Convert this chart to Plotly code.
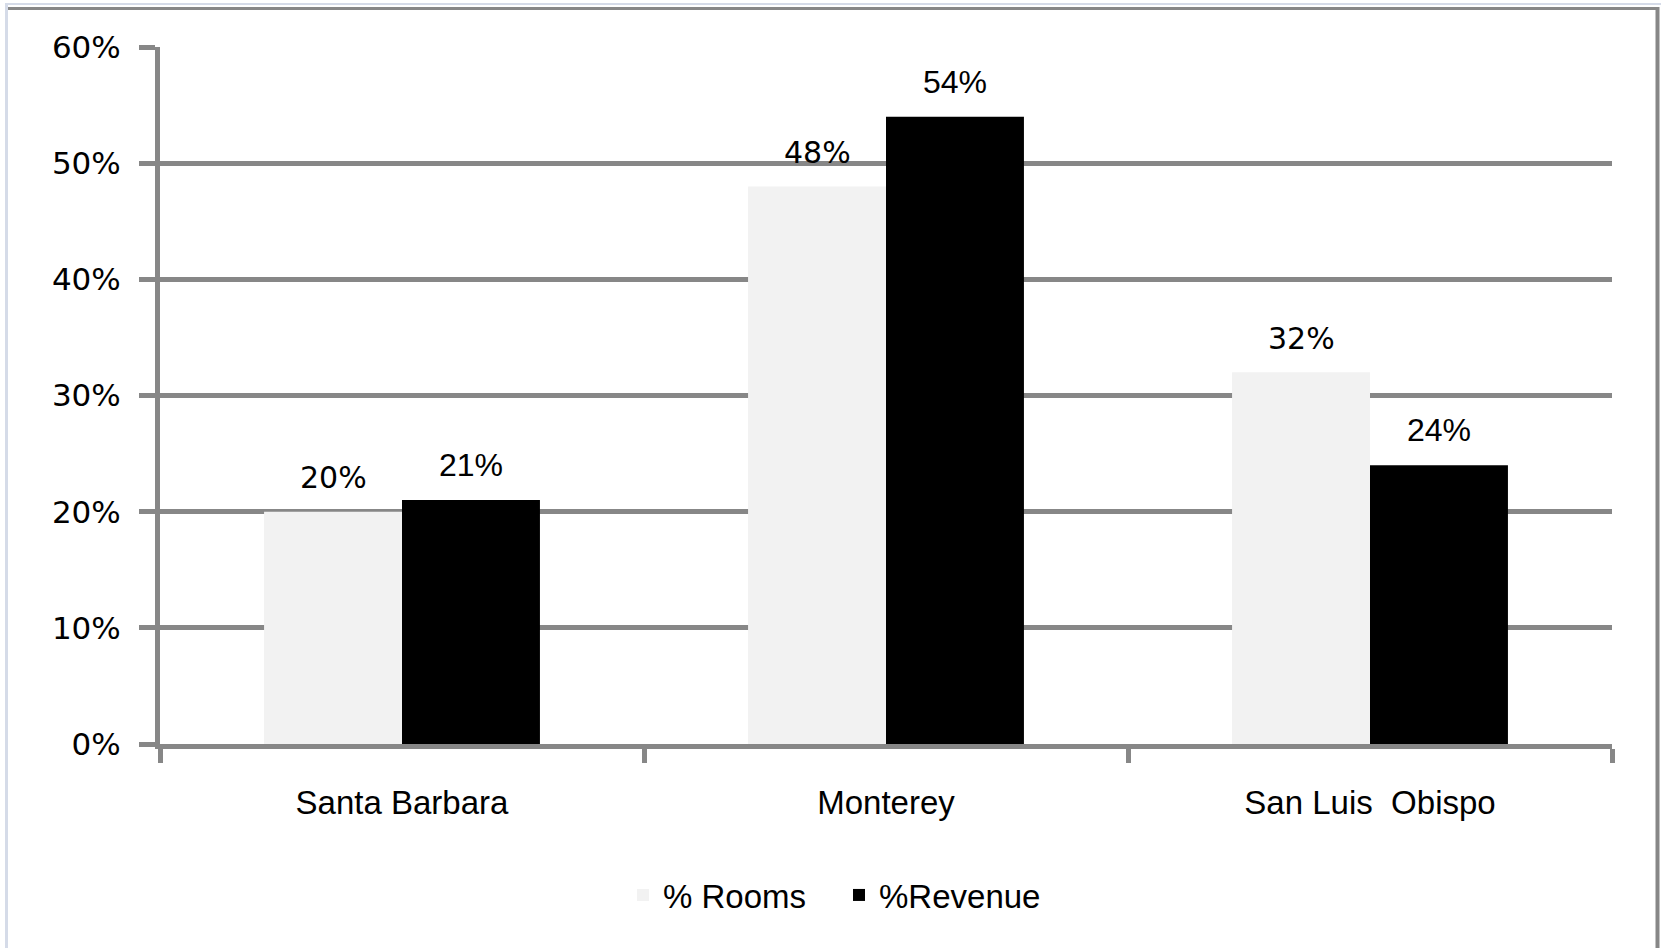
import plotly.graph_objects as go

# Share of rooms vs. share of revenue by county
categories = ["Santa Barbara", "Monterey", "San Luis  Obispo"]
rooms_pct = [20, 48, 32]
revenue_pct = [21, 54, 24]
series_names = ["% Rooms", "%Revenue"]
y_ticks = [0, 10, 20, 30, 40, 50, 60]
y_tick_text = [f"{v}%" for v in y_ticks]

W, H = 1661, 948
L, R, T, B = 160, 49, 47, 204
PW, PH = W - L - R, H - T - B

GRID = "#878787"
ROOMS_COLOR = "#f2f2f2"
REV_COLOR = "#000000"


def px_x(px):
    return (px - L) / PW


def px_y(py):
    return (H - B - py) / PH


fig = go.Figure()
fig.add_trace(go.Bar(x=categories, y=rooms_pct, name=series_names[0],
                     marker=dict(color=ROOMS_COLOR, line=dict(width=0))))
fig.add_trace(go.Bar(x=categories, y=revenue_pct, name=series_names[1],
                     marker=dict(color=REV_COLOR, line=dict(width=0))))

# value labels above each bar
half = PW / len(categories) * (1 - 0.43) / 4
annotations = []
for cat, v in zip(categories, rooms_pct):
    annotations.append(dict(x=cat, y=v, xref="x", yref="y", text=f"{v}%",
                            showarrow=False, xshift=-half, yshift=34,
                            yanchor="middle",
                            font=dict(family="DejaVu Sans", size=30, color="#000")))
for cat, v in zip(categories, revenue_pct):
    annotations.append(dict(x=cat, y=v, xref="x", yref="y", text=f"{v}%",
                            showarrow=False, xshift=half, yshift=35,
                            yanchor="middle",
                            font=dict(family="Liberation Sans", size=32, color="#000")))

# outer chart frame
shapes = [
    dict(type="line", xref="paper", yref="paper", x0=px_x(6.5), x1=px_x(6.5),
         y0=px_y(4), y1=px_y(H + 5), line=dict(color="#d5dbe8", width=3)),
    dict(type="line", xref="paper", yref="paper", x0=px_x(5), x1=px_x(W + 5),
         y0=px_y(4), y1=px_y(4), line=dict(color="#d5dbe8", width=2)),
    dict(type="line", xref="paper", yref="paper", x0=px_x(8), x1=px_x(1659),
         y0=px_y(8.5), y1=px_y(8.5), line=dict(color=GRID, width=3)),
    dict(type="line", xref="paper", yref="paper", x0=px_x(1657.5), x1=px_x(1657.5),
         y0=px_y(7), y1=px_y(H + 5), line=dict(color=GRID, width=4)),
]

fig.update_layout(
    width=W, height=H,
    margin=dict(l=L, r=R, t=T, b=B, pad=0),
    paper_bgcolor="white", plot_bgcolor="white",
    barmode="group", bargap=0.43, bargroupgap=0,
    showlegend=True,
    legend=dict(orientation="h", x=px_x(623), xanchor="left",
                y=px_y(895), yanchor="middle",
                entrywidth=171, entrywidthmode="pixels",
                font=dict(family="Liberation Sans", size=33, color="#000"),
                itemsizing="constant", traceorder="normal"),
    annotations=annotations,
    shapes=shapes,
)

fig.update_xaxes(
    type="category",
    showline=True, linecolor=GRID, linewidth=5,
    ticks="outside", tickson="boundaries", ticklen=14, tickwidth=5, tickcolor=GRID,
    showgrid=False,
    tickfont=dict(family="Liberation Sans", size=33, color="#000"),
    ticklabelstandoff=25,
)
fig.update_yaxes(
    range=[0, 60], tickmode="array", tickvals=y_ticks, ticktext=y_tick_text,
    showline=True, linecolor=GRID, linewidth=5,
    ticks="outside", ticklen=16, tickwidth=5, tickcolor=GRID,
    showgrid=True, gridcolor=GRID, gridwidth=5,
    zeroline=False,
    tickfont=dict(family="DejaVu Sans", size=31, color="#000"),
    ticklabelstandoff=12,
)

fig.write_html("out.html")
